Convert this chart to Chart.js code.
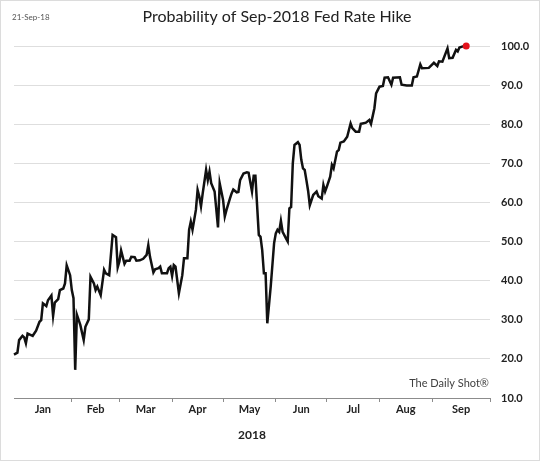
<!DOCTYPE html>
<html>
<head>
<meta charset="utf-8">
<script src="https://cdn.jsdelivr.net/npm/chart.js@4.4.1/dist/chart.umd.min.js"></script>
<style>
  html, body { margin: 0; padding: 0; background: #fff; }
  #wrap { width: 540px; height: 461px; position: relative; }
</style>
</head>
<body>
<div id="wrap"><canvas id="fed-chart"></canvas></div>
<script>
// values, one row per visible vertex
const dates = [
  '2017-12-29', '2017-12-31', '2018-01-01', '2018-01-03', '2018-01-04', '2018-01-05', '2018-01-06', '2018-01-08',
  '2018-01-09', '2018-01-11', '2018-01-13', '2018-01-14', '2018-01-15', '2018-01-17', '2018-01-18', '2018-01-20',
  '2018-01-21', '2018-01-22', '2018-01-24', '2018-01-25', '2018-01-27', '2018-01-28', '2018-01-29', '2018-01-31',
  '2018-02-01', '2018-02-02', '2018-02-03', '2018-02-04', '2018-02-06', '2018-02-08', '2018-02-09', '2018-02-11',
  '2018-02-12', '2018-02-14', '2018-02-15', '2018-02-16', '2018-02-18', '2018-02-20', '2018-02-21', '2018-02-23',
  '2018-02-25', '2018-02-27', '2018-02-28', '2018-03-01', '2018-03-02', '2018-03-04', '2018-03-05', '2018-03-07',
  '2018-03-08', '2018-03-10', '2018-03-11', '2018-03-13', '2018-03-15', '2018-03-17', '2018-03-18', '2018-03-19',
  '2018-03-21', '2018-03-22', '2018-03-24', '2018-03-25', '2018-03-26', '2018-03-29', '2018-03-30', '2018-03-31',
  '2018-04-01', '2018-04-02', '2018-04-03', '2018-04-05', '2018-04-07', '2018-04-08', '2018-04-10', '2018-04-11',
  '2018-04-12', '2018-04-13', '2018-04-15', '2018-04-16', '2018-04-17', '2018-04-18', '2018-04-19', '2018-04-21',
  '2018-04-22', '2018-04-23', '2018-04-24', '2018-04-26', '2018-04-28', '2018-04-29', '2018-05-01', '2018-05-02',
  '2018-05-03', '2018-05-05', '2018-05-06', '2018-05-07', '2018-05-09', '2018-05-10', '2018-05-11', '2018-05-13',
  '2018-05-15', '2018-05-16', '2018-05-18', '2018-05-19', '2018-05-20', '2018-05-22', '2018-05-23', '2018-05-24',
  '2018-05-25', '2018-05-26', '2018-05-27', '2018-05-29', '2018-05-30', '2018-05-31', '2018-06-01', '2018-06-02',
  '2018-06-03', '2018-06-04', '2018-06-05', '2018-06-07', '2018-06-08', '2018-06-09', '2018-06-10', '2018-06-11',
  '2018-06-12', '2018-06-14', '2018-06-15', '2018-06-16', '2018-06-17', '2018-06-18', '2018-06-19', '2018-06-20',
  '2018-06-21', '2018-06-23', '2018-06-25', '2018-06-26', '2018-06-28', '2018-06-29', '2018-06-30', '2018-07-01',
  '2018-07-03', '2018-07-04', '2018-07-05', '2018-07-07', '2018-07-08', '2018-07-09', '2018-07-11', '2018-07-13',
  '2018-07-15', '2018-07-16', '2018-07-18', '2018-07-20', '2018-07-21', '2018-07-22', '2018-07-24', '2018-07-26',
  '2018-07-27', '2018-07-29', '2018-07-30', '2018-08-01', '2018-08-03', '2018-08-04', '2018-08-06', '2018-08-08',
  '2018-08-09', '2018-08-13', '2018-08-14', '2018-08-17', '2018-08-20', '2018-08-21', '2018-08-23', '2018-08-25',
  '2018-08-26', '2018-08-30', '2018-09-02', '2018-09-04', '2018-09-05', '2018-09-07', '2018-09-10', '2018-09-11',
  '2018-09-13', '2018-09-15', '2018-09-16', '2018-09-17', '2018-09-19', '2018-09-21'
];

const probability = [
  21.1, 21.6, 24.8, 25.9, 25.5, 24.0, 26.5, 26.1,
  25.9, 27.2, 29.5, 29.9, 34.2, 33.5, 35.0, 36.2,
  31.0, 34.4, 35.3, 37.6, 38.0, 39.3, 43.9, 41.4,
  37.6, 35.5, 17.2, 31.3, 28.7, 24.8, 28.2, 30.1,
  41.0, 39.3, 37.6, 38.5, 36.3, 42.8, 41.9, 41.4,
  51.7, 51.1, 43.4, 44.9, 47.7, 44.3, 45.1, 45.1,
  46.1, 46.0, 45.1, 45.2, 45.6, 46.6, 49.1, 46.1,
  42.1, 42.9, 43.2, 43.6, 41.9, 41.9, 43.2, 43.6,
  41.2, 44.0, 43.6, 36.8, 41.4, 45.7, 45.7, 53.0,
  55.1, 53.0, 58.1, 63.2, 61.5, 59.0, 62.3, 68.3,
  65.7, 67.9, 64.9, 62.8, 53.6, 64.9, 60.6, 56.4,
  58.1, 61.0, 62.3, 63.3, 62.6, 62.7, 65.7, 67.4,
  67.7, 67.6, 62.8, 66.8, 66.8, 51.7, 51.2, 47.8,
  41.9, 41.9, 29.1, 38.5, 44.0, 49.6, 52.1, 53.0,
  52.5, 55.3, 52.5, 50.8, 50.0, 58.5, 58.8, 70.0,
  74.7, 75.4, 74.7, 70.9, 68.7, 68.3, 65.7, 63.0,
  59.3, 61.9, 62.8, 61.6, 61.0, 64.5, 62.8, 64.0,
  66.6, 69.6, 68.7, 73.0, 73.4, 75.3, 75.6, 76.8,
  80.2, 79.0, 78.1, 78.1, 80.1, 80.2, 80.4, 81.1,
  80.1, 84.1, 87.9, 89.6, 89.8, 91.9, 92.0, 90.1,
  91.9, 92.0, 90.1, 89.9, 89.9, 92.0, 92.2, 95.3,
  94.3, 94.4, 95.7, 94.9, 96.1, 96.0, 99.4, 96.9,
  97.0, 99.0, 98.6, 99.6, 99.9, 100.0
];

const monthLabels = ['Jan', 'Feb', 'Mar', 'Apr', 'May', 'Jun', 'Jul', 'Aug', 'Sep'];
const monthStarts = ['2018-02-01', '2018-03-01', '2018-04-01', '2018-05-01', '2018-06-01',
                     '2018-07-01', '2018-08-01', '2018-09-01'];
const axisStart = '2017-12-29';
const axisEnd = '2018-10-05';
const yTicks = [10, 20, 30, 40, 50, 60, 70, 80, 90, 100];

const FONT = 'Lato, "Open Sans", sans-serif';

function dayOf(s) {
  return (Date.parse(s + 'T00:00:00Z') - Date.UTC(2018, 0, 1)) / 86400000;
}

const xMin = dayOf(axisStart);
const xMax = dayOf(axisEnd);

// tick marks at month boundaries, labels centred between them
const bounds = [xMin].concat(monthStarts.map(dayOf), [xMax]);
const xTickList = [];
for (let i = 0; i < bounds.length; i++) {
  if (i > 0) xTickList.push({ value: bounds[i], name: '', mark: true });
  if (i < monthLabels.length) {
    xTickList.push({ value: (bounds[i] + bounds[i + 1]) / 2, name: monthLabels[i], mark: false });
  }
}
xTickList.sort((a, b) => a.value - b.value);

const points = dates.map((d, i) => ({ x: dayOf(d), y: probability[i] }));
const lastIdx = points.length - 1;

const extras = {
  id: 'extras',
  afterDraw(chart) {
    const ctx = chart.ctx;
    const area = chart.chartArea;
    ctx.save();
    ctx.strokeStyle = '#dcdcdc';
    ctx.lineWidth = 1;
    ctx.strokeRect(0.5, 0.5, chart.width - 1, chart.height - 1);

    ctx.fillStyle = '#555';
    ctx.font = '8px ' + FONT;
    ctx.textAlign = 'left';
    ctx.textBaseline = 'middle';
    ctx.fillText('21-Sep-18', 12, 17);

    ctx.fillStyle = '#404040';
    ctx.font = '11px ' + FONT;
    ctx.textAlign = 'right';
    ctx.fillText('The Daily Shot\u00AE', area.right - 1, area.bottom - 15);
    ctx.restore();
  }
};

new Chart(document.getElementById('fed-chart'), {
  type: 'line',
  data: {
    datasets: [{
      label: 'Probability',
      data: points,
      borderColor: '#111',
      borderWidth: 2.5,
      tension: 0,
      clip: false,
      pointRadius: ctx => (ctx.dataIndex === lastIdx ? 3.5 : 0),
      pointBackgroundColor: '#e3121b',
      pointBorderWidth: 0,
      pointHoverRadius: 0
    }]
  },
  options: {
    responsive: true,
    maintainAspectRatio: false,
    animation: false,
    layout: { padding: { left: 14, right: 0, top: 0, bottom: 0 } },
    plugins: {
      legend: { display: false },
      tooltip: { enabled: false },
      title: {
        display: true,
        text: 'Probability of Sep-2018 Fed Rate Hike',
        color: '#222',
        font: { family: FONT, size: 16, weight: 'normal' },
        padding: { top: 7, bottom: 19.8 }
      }
    },
    scales: {
      x: {
        type: 'linear',
        position: 'bottom',
        min: xMin,
        max: xMax,
        afterBuildTicks: scale => { scale.ticks = xTickList.map(t => ({ value: t.value })); },
        afterFit: scale => { scale.height = 63; },
        ticks: {
          autoSkip: false,
          maxRotation: 0,
          padding: 1,
          color: '#222',
          font: { family: FONT, size: 11, weight: 'bold' },
          callback: (v, i) => xTickList[i].name
        },
        grid: {
          drawOnChartArea: false,
          drawTicks: true,
          tickLength: 4,
          tickColor: ctx => (xTickList[ctx.index] && xTickList[ctx.index].mark ? '#8c8c8c' : 'rgba(0,0,0,0)')
        },
        border: { display: true, color: '#8c8c8c', width: 1 },
        title: {
          display: true,
          text: '2018',
          color: '#222',
          font: { family: FONT, size: 12, weight: 'bold' },
          padding: { top: 4, bottom: 19 }
        }
      },
      y: {
        type: 'linear',
        position: 'right',
        min: yTicks[0],
        max: yTicks[yTicks.length - 1],
        afterBuildTicks: scale => { scale.ticks = yTicks.map(v => ({ value: v })); },
        afterFit: scale => { scale.width = 50; },
        ticks: {
          padding: 11,
          color: '#222',
          font: { family: FONT, size: 11, weight: 'bold' },
          callback: v => v.toFixed(1)
        },
        grid: { color: '#dedede', lineWidth: 1, drawTicks: false },
        border: { display: false }
      }
    }
  },
  plugins: [extras]
});
</script>
</body>
</html>
